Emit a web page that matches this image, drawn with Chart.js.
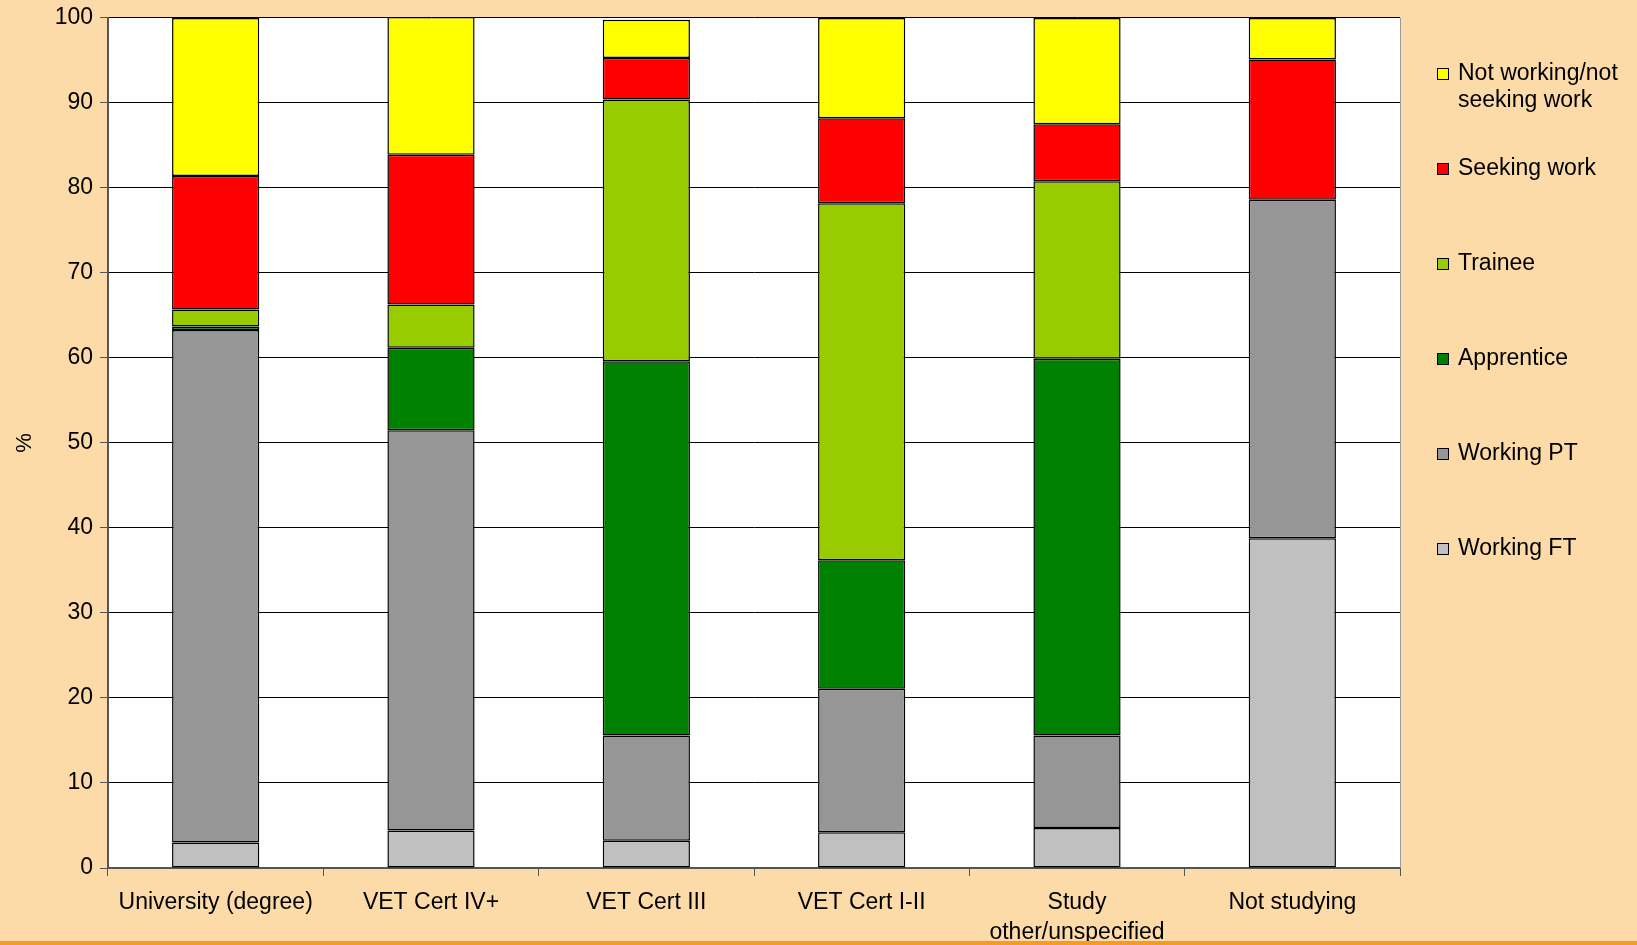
<!DOCTYPE html>
<html>
<head>
<meta charset="utf-8">
<script src="https://cdn.jsdelivr.net/npm/chart.js@4/dist/chart.umd.min.js"></script>
<style>
  html, body { margin: 0; padding: 0; background: #fcdba8; }
  #wrap { position: relative; width: 1637px; height: 945px; background: #fcdba8; overflow: hidden; }
  #bottomLine { position: absolute; left: 0; top: 941px; width: 1637px; height: 4px; background: #f59a26; }
</style>
</head>
<body>
<div id="wrap">
  <canvas id="chart" width="1637" height="945"></canvas>
  <div id="bottomLine"></div>
</div>
<script>
// categories on the x axis
const categories = [
  'University (degree)',
  'VET Cert IV+',
  'VET Cert III',
  'VET Cert I-II',
  ['Study', 'other/unspecified'],
  'Not studying'
]

// series values (%)
const workingFT = [3.0, 4.4, 3.2, 4.2, 4.7, 38.8]
const workingPT = [60.3, 47.1, 12.4, 16.9, 10.9, 39.8]
const apprentice = [0.4, 9.7, 44.0, 15.1, 44.3, 0]
const trainee = [2.0, 5.1, 30.8, 42.0, 20.9, 0]
const seekingWork = [15.7, 17.6, 4.9, 10.0, 6.7, 16.5]
const notWorking = [18.6, 16.2, 4.5, 11.8, 12.5, 4.9]

const seriesNames = [
  'Working FT',
  'Working PT',
  'Apprentice',
  'Trainee',
  'Seeking work',
  ['Not working/not', 'seeking work']
]
const seriesColors = ['#c0c0c0', '#969696', '#008000', '#99cc00', '#ff0000', '#ffff00']
const seriesData = [workingFT, workingPT, apprentice, trainee, seekingWork, notWorking]

const FONT = "'Liberation Sans', Arial, sans-serif"

// white plot background + thin right border
const plotBg = {
  id: 'plotBg',
  beforeDraw(chart) {
    const { ctx, chartArea: a } = chart
    ctx.save()
    ctx.fillStyle = '#ffffff'
    ctx.fillRect(a.left, a.top, a.right - a.left, a.bottom - a.top)
    ctx.restore()
  },
  afterDraw(chart) {
    const { ctx, chartArea: a } = chart
    ctx.save()
    ctx.strokeStyle = '#9a9a9a'
    ctx.lineWidth = 1
    ctx.beginPath()
    ctx.moveTo(a.right + 0.5, a.top)
    ctx.lineTo(a.right + 0.5, a.bottom)
    ctx.stroke()
    ctx.restore()
  }
}

// legend on the right, top to bottom in reverse stack order
const sideLegend = {
  id: 'sideLegend',
  afterDraw(chart) {
    const { ctx } = chart
    const x = 1437
    let y = 74
    ctx.save()
    ctx.font = '23px ' + FONT
    ctx.textBaseline = 'middle'
    for (let i = chart.data.datasets.length - 1; i >= 0; i--) {
      const ds = chart.data.datasets[i]
      ctx.fillStyle = ds.backgroundColor
      ctx.fillRect(x, y - 6, 12, 12)
      ctx.strokeStyle = '#000'
      ctx.lineWidth = 1
      ctx.strokeRect(x + 0.5, y - 5.5, 11, 11)
      ctx.fillStyle = '#000'
      const lines = Array.isArray(ds.label) ? ds.label : [ds.label]
      lines.forEach((t, k) => ctx.fillText(t, x + 21, y + k * 27))
      y += 95
    }
    ctx.restore()
  }
}

const datasets = seriesData.map((d, i) => ({
  label: seriesNames[i],
  data: d,
  backgroundColor: seriesColors[i],
  borderColor: '#000',
  borderWidth: 1.5,
  borderSkipped: false,
  categoryPercentage: 1,
  barPercentage: 0.405
}))

const ctx = document.getElementById('chart').getContext('2d')
new Chart(ctx, {
  type: 'bar',
  data: { labels: categories, datasets: datasets },
  options: {
    responsive: false,
    animation: false,
    devicePixelRatio: 1,
    layout: { padding: { top: 15, right: 237, bottom: 0, left: 0 } },
    plugins: {
      legend: { display: false },
      tooltip: { enabled: false }
    },
    scales: {
      x: {
        stacked: true,
        afterFit(scale) { scale.height = 77 },
        grid: {
          offset: true,
          drawOnChartArea: false,
          drawTicks: true,
          tickLength: 8,
          tickColor: '#555'
        },
        border: { color: '#555', width: 2 },
        ticks: {
          color: '#000',
          padding: 12,
          maxRotation: 0,
          autoSkip: false,
          font: { family: FONT, size: 23, lineHeight: 1.3 }
        }
      },
      y: {
        stacked: true,
        min: 0,
        max: 100,
        afterFit(scale) { scale.width = 108 },
        grid: {
          color: '#000',
          lineWidth: 1,
          drawTicks: true,
          tickLength: 8,
          tickColor: '#555'
        },
        border: { color: '#555', width: 2 },
        ticks: {
          stepSize: 10,
          color: '#000',
          padding: 7,
          font: { family: FONT, size: 23, lineHeight: 0.95 }
        },
        title: {
          display: true,
          text: '%',
          color: '#000',
          padding: { top: 12, bottom: 0 },
          font: { family: FONT, size: 22 }
        }
      }
    }
  },
  plugins: [plotBg, sideLegend]
})
</script>
</body>
</html>
